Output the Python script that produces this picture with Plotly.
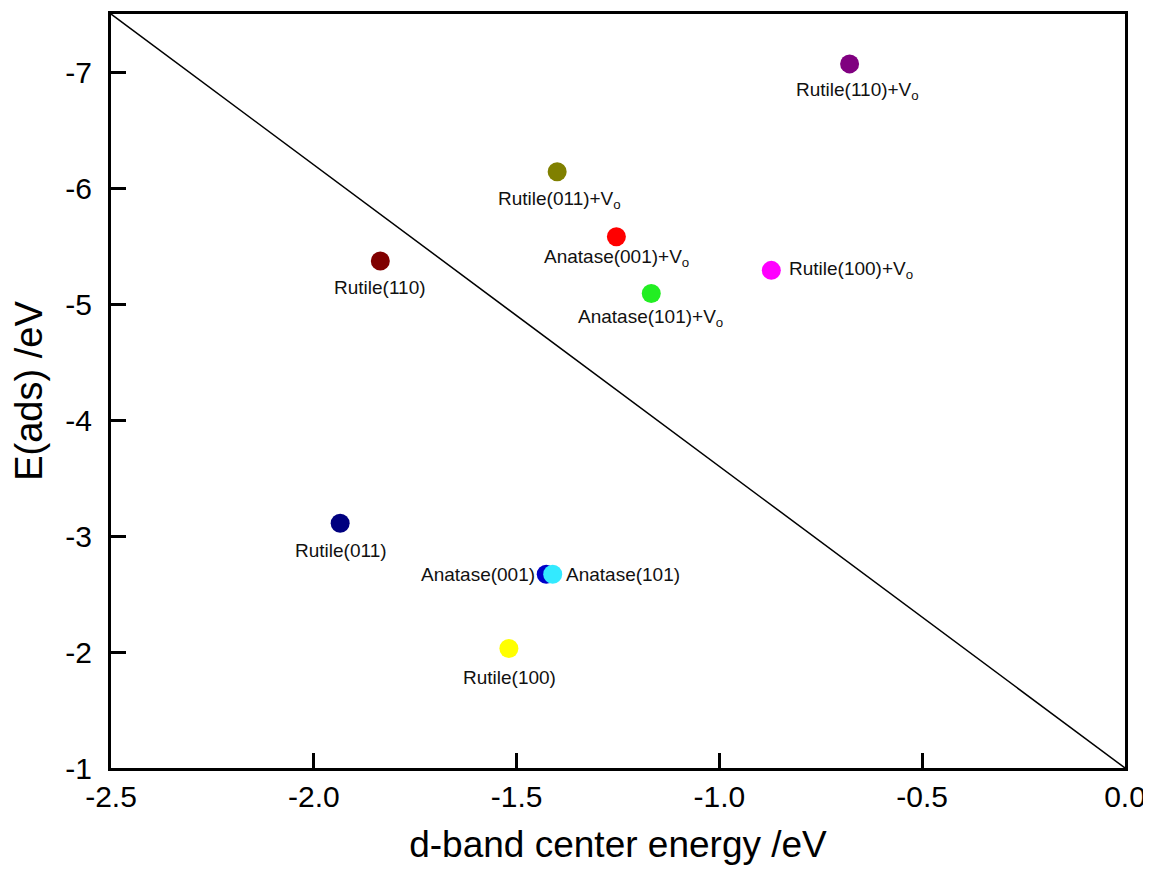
import plotly.graph_objects as go

# ---- data ----
labels = [
    "Rutile(110)+V<sub>o</sub>",
    "Rutile(011)+V<sub>o</sub>",
    "Anatase(001)+V<sub>o</sub>",
    "Anatase(101)+V<sub>o</sub>",
    "Rutile(100)+V<sub>o</sub>",
    "Rutile(110)",
    "Rutile(011)",
    "Anatase(001)",
    "Anatase(101)",
    "Rutile(100)",
]
d_band = [-0.679, -1.400, -1.254, -1.168, -0.872, -1.836, -1.935, -1.427, -1.411, -1.519]
e_ads = [-7.07, -6.14, -5.58, -5.09, -5.29, -5.37, -3.11, -2.67, -2.67, -2.03]
colors = ["#800080", "#808000", "#ff0000", "#22ee22", "#ff00ff",
          "#800000", "#00007f", "#0000c8", "#33eaff", "#ffff00"]

line_x = [-2.5, 0.0]
line_y = [-7.5, -1.0]

x_ticks = [-2.5, -2.0, -1.5, -1.0, -0.5, 0.0]
y_ticks = [-1, -2, -3, -4, -5, -6, -7]

# label placement (pixel offsets, anchor)
label_style = [
    (8, -27, "center"),
    (2, -28, "center"),
    (0, -21, "center"),
    (-1, -24, "center"),
    (16, 0, "left"),
    (0, -26, "center"),
    (1, -27, "center"),
    (-9, 0, "right"),
    (11, 0, "left"),
    (1, -29, "center"),
]

FONT = "Arial, Liberation Sans, sans-serif"

fig = go.Figure()
fig.add_trace(go.Scatter(x=line_x, y=line_y, mode="lines",
                         line=dict(color="black", width=1.5),
                         showlegend=False, hoverinfo="skip"))
fig.add_trace(go.Scatter(x=d_band, y=e_ads, mode="markers",
                         marker=dict(size=19, color=colors, line=dict(width=0)),
                         showlegend=False, text=labels))

for xv, yv, lab, (dx, dy, anc) in zip(d_band, e_ads, labels, label_style):
    fig.add_annotation(x=xv, y=yv, text=lab, showarrow=False,
                       xanchor=anc, yanchor="middle", xshift=dx, yshift=dy,
                       font=dict(family=FONT, size=19, color="#111"))

axis_common = dict(
    showline=True, linecolor="black", linewidth=3, mirror=True,
    ticks="inside", ticklen=15, tickwidth=3, tickcolor="black",
    showgrid=False, zeroline=False,
    tickfont=dict(family=FONT, size=30, color="black"),
)

fig.update_xaxes(range=[-2.5, 0.0], tickvals=x_ticks,
                 ticktext=[f"{v:.1f}" for v in x_ticks],
                 title=dict(text="d-band center energy /eV",
                            font=dict(family=FONT, size=37, color="black"),
                            standoff=20),
                 **axis_common)
fig.update_yaxes(range=[-1, -7.5], tickvals=y_ticks,
                 ticktext=[str(v) for v in y_ticks],
                 title=dict(text="E(ads) /eV",
                            font=dict(family=FONT, size=38, color="black"),
                            standoff=20),
                 ticklabelstandoff=10,
                 **axis_common)

fig.update_layout(
    width=1151, height=878,
    margin=dict(l=103, r=34, t=6, b=118, autoexpand=False),
    plot_bgcolor="white", paper_bgcolor="white",
    font=dict(family=FONT),
)

fig.write_html("out.html")
